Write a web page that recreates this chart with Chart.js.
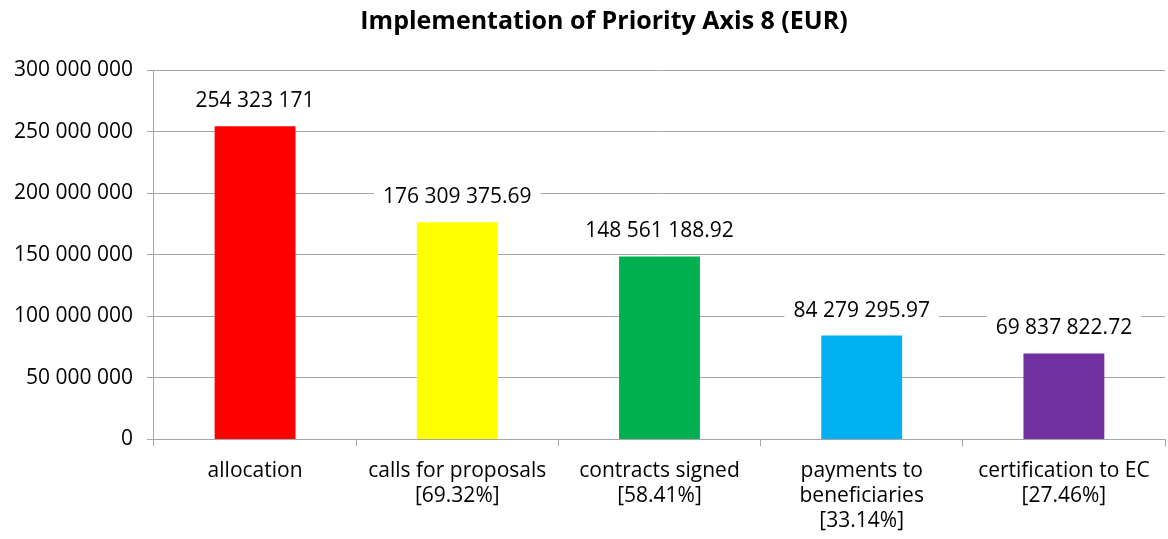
<!DOCTYPE html>
<html>
<head>
<meta charset="utf-8">
<script src="https://cdn.jsdelivr.net/npm/chart.js@4/dist/chart.umd.min.js"></script>
<style>
html,body{margin:0;padding:0;background:#fff;}
#wrap{width:1168px;height:539px;position:relative;}
</style>
</head>
<body>
<div id="wrap"><canvas id="c" width="1168" height="539"></canvas></div>
<script>
const title = 'Implementation of Priority Axis 8 (EUR)';
const categories = [
  ['allocation'],
  ['calls for proposals', '[69.32%]'],
  ['contracts signed', '[58.41%]'],
  ['payments to', 'beneficiaries', '[33.14%]'],
  ['certification to EC', '[27.46%]']
];
const values = [254323171, 176309375.69, 148561188.92, 84279295.97, 69837822.72];
const barColors = ['#ff0000', '#ffff00', '#00b050', '#00b0f0', '#7030a0'];
const yMax = 300000000;
const yStep = 50000000;

function fmt(v) {
  const neg = v < 0;
  v = Math.abs(v);
  let s = Number.isInteger(v) ? String(v) : v.toFixed(2);
  let [ip, dp] = s.split('.');
  ip = ip.replace(/\B(?=(\d{3})+(?!\d))/g, ' ');
  return (neg ? '-' : '') + ip + (dp ? '.' + dp : '');
}

const FONT = "'Open Sans', sans-serif";

const labelPlugin = {
  id: 'valueLabels',
  afterDatasetsDraw(chart) {
    const ctx = chart.ctx;
    const meta = chart.getDatasetMeta(0);
    ctx.save();
    ctx.font = '21px ' + FONT;
    ctx.textAlign = 'center';
    ctx.textBaseline = 'middle';
    meta.data.forEach((bar, i) => {
      const txt = fmt(chart.data.datasets[0].data[i]);
      const y = bar.y - 25;
      const w = ctx.measureText(txt).width + 18;
      ctx.fillStyle = '#ffffff';
      ctx.fillRect(bar.x - w / 2, y - 13, w, 26);
      ctx.fillStyle = '#000000';
      ctx.fillText(txt, bar.x, y);
    });
    ctx.restore();
  },
  afterDraw(chart) {
    const ctx = chart.ctx;
    ctx.save();
    ctx.font = 'bold 25px ' + FONT;
    ctx.fillStyle = '#000';
    ctx.textAlign = 'center';
    ctx.textBaseline = 'middle';
    ctx.fillText(title, 604, 22);
    ctx.restore();
  }
};

new Chart(document.getElementById('c'), {
  type: 'bar',
  data: {
    labels: categories,
    datasets: [{
      data: values,
      backgroundColor: barColors,
      borderWidth: 0,
      categoryPercentage: 1.0,
      barPercentage: 0.4
    }]
  },
  options: {
    responsive: false,
    animation: false,
    layout: { padding: { left: 0, right: 3, top: 70, bottom: -7 } },
    plugins: {
      legend: { display: false },
      tooltip: { enabled: false },
      title: { display: false }
    },
    scales: {
      x: {
        grid: { display: true, drawOnChartArea: false, drawTicks: true, tickLength: 7, offset: true, color: '#a6a6a6', lineWidth: 1 },
        border: { display: true, color: '#a6a6a6', width: 1 },
        ticks: { color: '#000', font: { family: FONT, size: 21, lineHeight: 1.2 }, padding: 12, maxRotation: 0, autoSkip: false }
      },
      y: {
        min: 0,
        max: yMax,
        grid: { color: '#a6a6a6', lineWidth: 1, tickLength: 7 },
        border: { display: true, color: '#a6a6a6', width: 1 },
        ticks: {
          stepSize: yStep,
          color: '#000',
          font: { family: FONT, size: 21 },
          padding: 14,
          callback: v => fmt(v)
        }
      }
    }
  },
  plugins: [labelPlugin]
});
</script>
</body>
</html>
